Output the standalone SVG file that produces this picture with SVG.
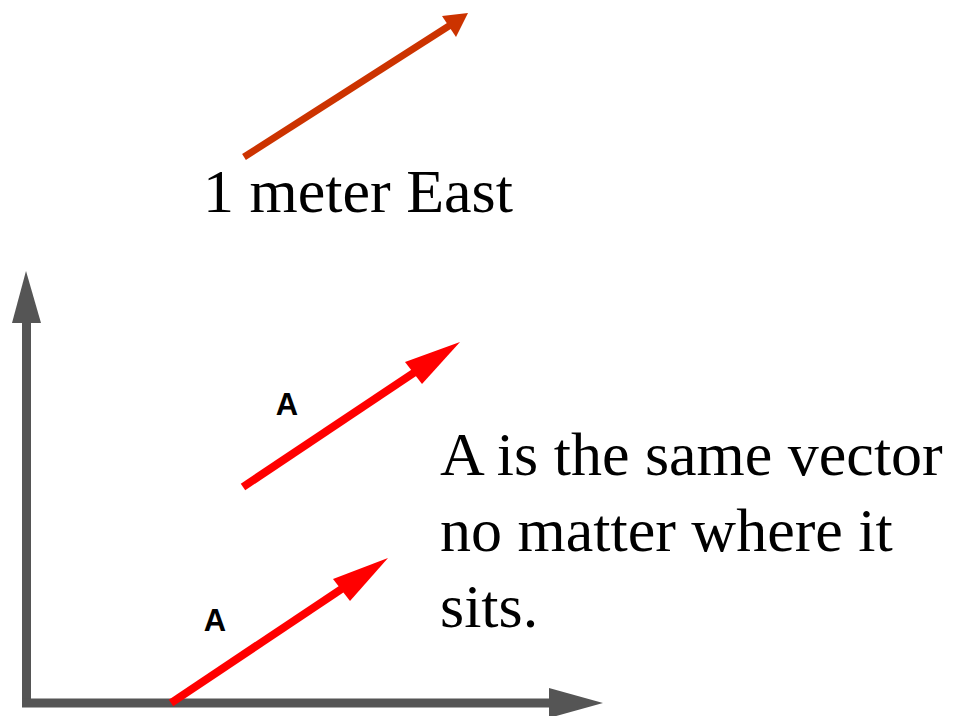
<svg xmlns="http://www.w3.org/2000/svg" width="968" height="716" viewBox="0 0 968 716">
<style>
.t{font-family:"Liberation Serif","Times New Roman",serif;font-size:62px;fill:#000}
.lbl{font-family:"Liberation Sans",Arial,sans-serif;font-size:31px;font-weight:bold;fill:#000;text-anchor:middle}
.axis{stroke:#555;stroke-width:9;fill:none}
.ax-head{fill:#555}
.red{stroke:#ff0000;stroke-width:8;fill:none}
.red-head{fill:#ff0000}
.orange{stroke:#cc3300;stroke-width:7;fill:none}
.orange-head{fill:#cc3300}
</style>
<rect width="968" height="716" fill="#fff"/>
<g id="top-vector">
<line class="orange" x1="244" y1="157" x2="452" y2="24"/>
<polygon class="orange-head" points="468,13 442,16 456,37"/>
</g>
<g id="label-1m">
<text class="t" x="203" y="212">1 meter East</text>
</g>
<g id="axes">
<line class="axis" x1="26.5" y1="318" x2="26.5" y2="707"/>
<polygon class="ax-head" points="26,271 12,323 41,323"/>
<line class="axis" x1="22" y1="703" x2="555" y2="703"/>
<polygon class="ax-head" points="603,703 549,688 549,718"/>
</g>
<g id="vector-upper">
<line class="red" x1="243" y1="487" x2="430" y2="362"/>
<polygon class="red-head" points="460,342 405,362 422,384"/>
<text class="lbl" x="287" y="415">A</text>
</g>
<g id="vector-lower">
<line class="red" x1="171" y1="703" x2="358" y2="578"/>
<polygon class="red-head" points="388,558 333,579 350,601"/>
<text class="lbl" x="215" y="631">A</text>
</g>
<g id="caption">
<text class="t" x="440" y="475">A is the same vector</text>
<text class="t" x="440" y="551">no matter where it</text>
<text class="t" x="440" y="627">sits.</text>
</g>
</svg>
